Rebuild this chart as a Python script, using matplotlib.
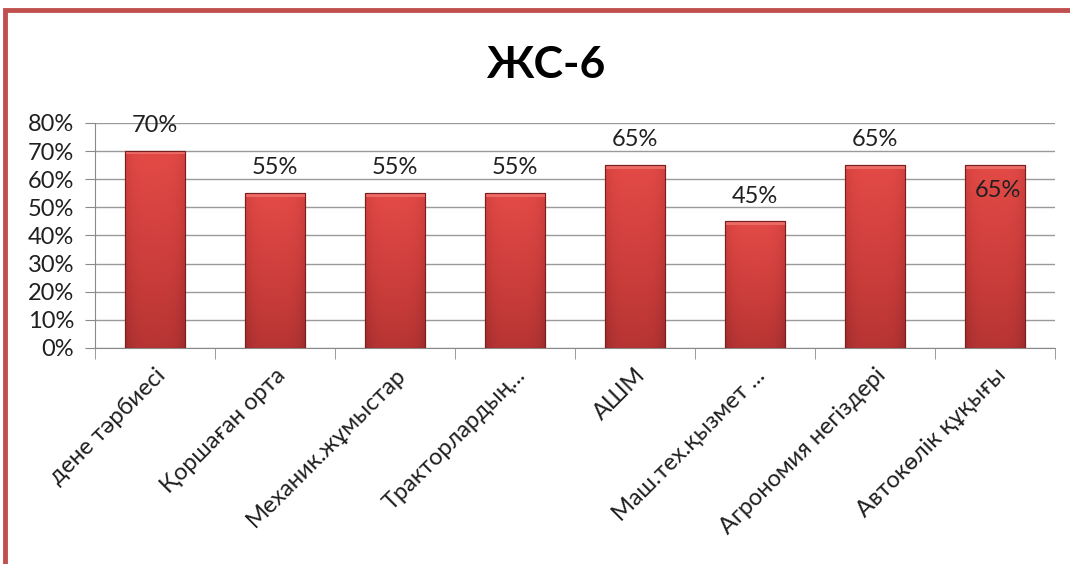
import matplotlib
matplotlib.use("Agg")
import matplotlib.pyplot as plt
import numpy as np
from matplotlib.patches import Rectangle
from matplotlib.colors import LinearSegmentedColormap

plt.rcParams['font.family'] = ['Lato', 'DejaVu Sans']

# Дані діаграми
categories = ['дене тәрбиесі', 'Қоршаған орта', 'Механик.жұмыстар', 'Тракторлардың...',
              'АШМ', 'Маш.тех.қызмет ...', 'Агрономия негіздері', 'Автокөлік құқығы']
values = [0.70, 0.55, 0.55, 0.55, 0.65, 0.45, 0.65, 0.65]
labels = ['70%', '55%', '55%', '55%', '65%', '45%', '65%', '65%']
yticks = [0, 0.1, 0.2, 0.3, 0.4, 0.5, 0.6, 0.7, 0.8]
ytick_labels = ['0%', '10%', '20%', '30%', '40%', '50%', '60%', '70%', '80%']

fig = plt.figure(figsize=(10.7, 5.64), dpi=100)
ax = fig.add_axes([0.0888, 0.383, 0.897, 0.399])

x = np.arange(len(categories))
bars = ax.bar(x, values, width=0.5, color='#C8403D', edgecolor='#7A1F1F',
              linewidth=0.8, zorder=3)

# Градієнт на стовпчиках
cmap = LinearSegmentedColormap.from_list('bar', ['#E34A46', '#C63B39', '#9E2C2C'])
grad = np.linspace(0, 1, 100).reshape(-1, 1)
hgrad = np.abs(np.linspace(-1, 1, 60)).reshape(1, -1)
img = 0.7 * grad + 0.3 * hgrad ** 4
for b in bars:
    x0, y0 = b.get_x(), b.get_y()
    w, h = b.get_width(), b.get_height()
    im = ax.imshow(img, cmap=cmap, aspect='auto', origin='upper',
                   extent=[x0, x0 + w, y0, y0 + h], zorder=3.5, vmin=0, vmax=1)
    im.set_clip_path(b)
    # світла фаска зверху
    ax.add_patch(Rectangle((x0, y0 + h - 0.012), w, 0.012, facecolor='#EC6A66',
                           edgecolor='none', zorder=4))
    ax.add_patch(Rectangle((x0, y0), w, h, facecolor='none',
                           edgecolor='#7A1F1F', linewidth=0.8, zorder=5))

# Підписи значень
for i, (v, lab) in enumerate(zip(values, labels)):
    if i == len(values) - 1:
        ax.text(x[i] + 0.03, v - 0.09, lab, ha='center', va='center',
                fontsize=17, color='#202020', zorder=6)
    else:
        ax.text(x[i], v + 0.09, lab, ha='center', va='center',
                fontsize=17, color='#202020', zorder=6)

ax.set_xlim(-0.5, len(categories) - 0.5)
ax.set_ylim(0, 0.8)
ax.set_yticks(yticks)
ax.set_yticklabels(ytick_labels, fontsize=17, color='#202020')
ax.yaxis.grid(True, color='#9A9A9A', linewidth=1.0, zorder=0)
ax.set_axisbelow(True)

ax.set_xticks(x)
ax.set_xticklabels(categories, rotation=45, ha='right', rotation_mode='anchor',
                   fontsize=17, color='#202020')
ax.tick_params(axis='x', length=0, pad=12)
ax.set_xticks(np.arange(-0.5, len(categories)), minor=True)
ax.tick_params(axis='x', which='minor', length=8, color='#8A8A8A', direction='out')
ax.tick_params(axis='y', length=7, color='#8A8A8A', direction='out', pad=8)

for s in ['top', 'right']:
    ax.spines[s].set_visible(False)
ax.spines['left'].set_color('#8A8A8A')
ax.spines['bottom'].set_color('#8A8A8A')

fig.text(0.51, 0.885, 'ЖС-6', ha='center', va='center', fontsize=32,
         fontweight='bold', color='black')

# Червона рамка
fig.add_artist(Rectangle((0.005, -0.1), 1.2, 1.083, transform=fig.transFigure,
                         facecolor='none', edgecolor='#C0504D', linewidth=3.5,
                         clip_on=False))

fig.savefig('out.png', dpi=100)
